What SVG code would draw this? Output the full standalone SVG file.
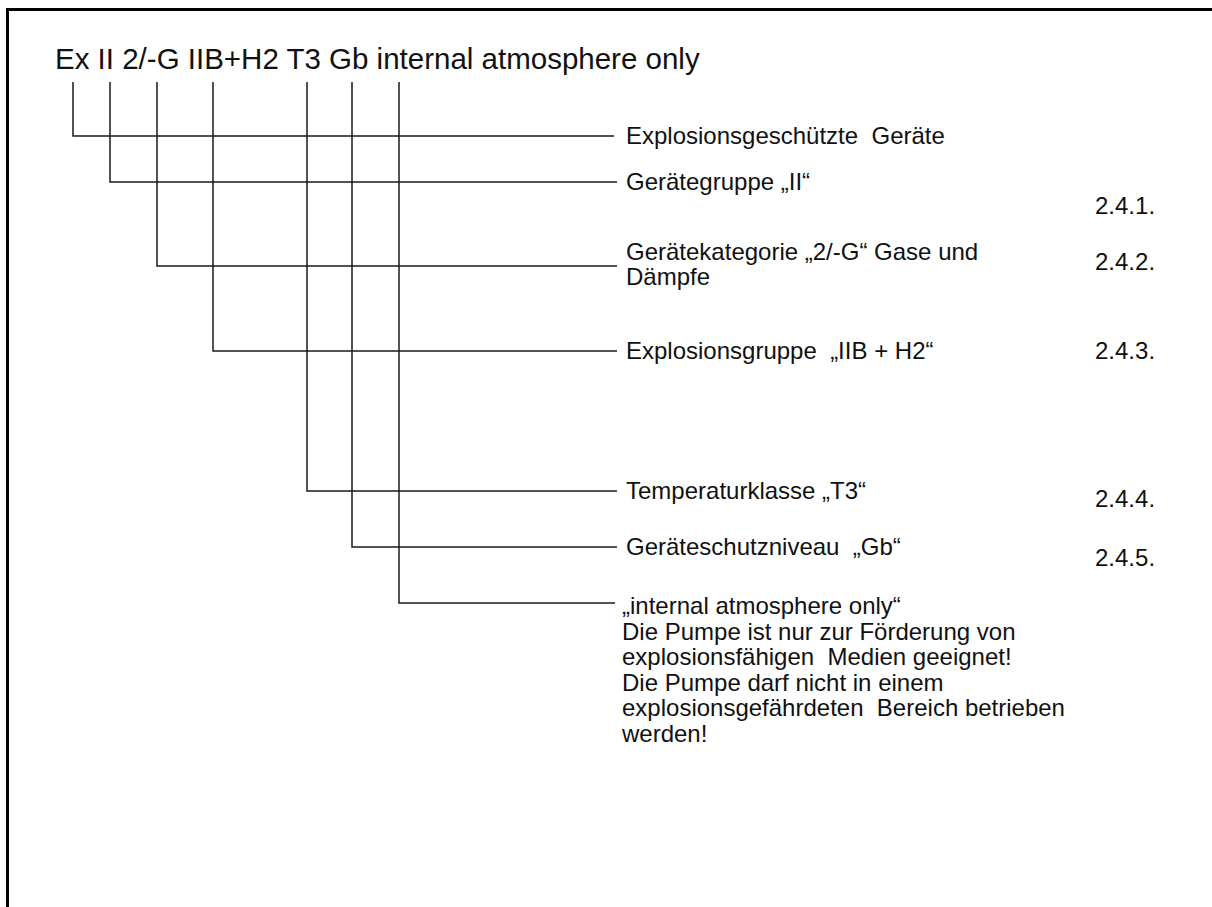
<svg xmlns="http://www.w3.org/2000/svg" width="1212" height="907" viewBox="0 0 1212 907">
<style>
.t{font-family:"Liberation Sans",Arial,sans-serif;font-size:24px;fill:#111}
.title{font-family:"Liberation Sans",Arial,sans-serif;font-size:29.5px;fill:#111}
.c{fill:none;stroke:#1a1a1a;stroke-width:1.5}
.b{fill:none;stroke:#000;stroke-width:3}
</style>
<rect width="1212" height="907" fill="#fff"/>
<path class="b" d="M7.5 907 V9.5 H1212"/>
<text class="title" x="55" y="69">Ex II 2/-G IIB+H2 T3 Gb internal atmosphere only</text>
<g id="connectors">
<path class="c" d="M73 82 V136 H614"/>
<path class="c" d="M110 82 V182 H617"/>
<path class="c" d="M157 82 V266 H617"/>
<path class="c" d="M213 82 V351 H617"/>
<path class="c" d="M307 82 V491 H617"/>
<path class="c" d="M352 82 V547 H617"/>
<path class="c" d="M399 82 V603 H615"/>
</g>
<g id="n1"><text class="t" x="626" y="144" xml:space="preserve">Explosionsgeschützte  Geräte</text></g>
<g id="n2"><text class="t" x="626" y="190">Gerätegruppe „II“</text><text class="t" x="1095" y="214">2.4.1.</text></g>
<g id="n3"><text class="t" x="626" y="260">Gerätekategorie „2/-G“ Gase und</text><text class="t" x="626" y="285">Dämpfe</text><text class="t" x="1095" y="270">2.4.2.</text></g>
<g id="n4"><text class="t" x="626" y="359" xml:space="preserve">Explosionsgruppe  „IIB + H2“</text><text class="t" x="1095" y="359">2.4.3.</text></g>
<g id="n5"><text class="t" x="626" y="499">Temperaturklasse „T3“</text><text class="t" x="1095" y="507">2.4.4.</text></g>
<g id="n6"><text class="t" x="626" y="555" xml:space="preserve">Geräteschutzniveau  „Gb“</text><text class="t" x="1095" y="566">2.4.5.</text></g>
<g id="n7">
<text class="t" x="622" y="614">„internal atmosphere only“</text>
<text class="t" x="622" y="639.5">Die Pumpe ist nur zur Förderung von</text>
<text class="t" x="622" y="665" xml:space="preserve">explosionsfähigen  Medien geeignet!</text>
<text class="t" x="622" y="690.5">Die Pumpe darf nicht in einem</text>
<text class="t" x="622" y="716" xml:space="preserve">explosionsgefährdeten  Bereich betrieben</text>
<text class="t" x="622" y="741.5">werden!</text>
</g>
</svg>
